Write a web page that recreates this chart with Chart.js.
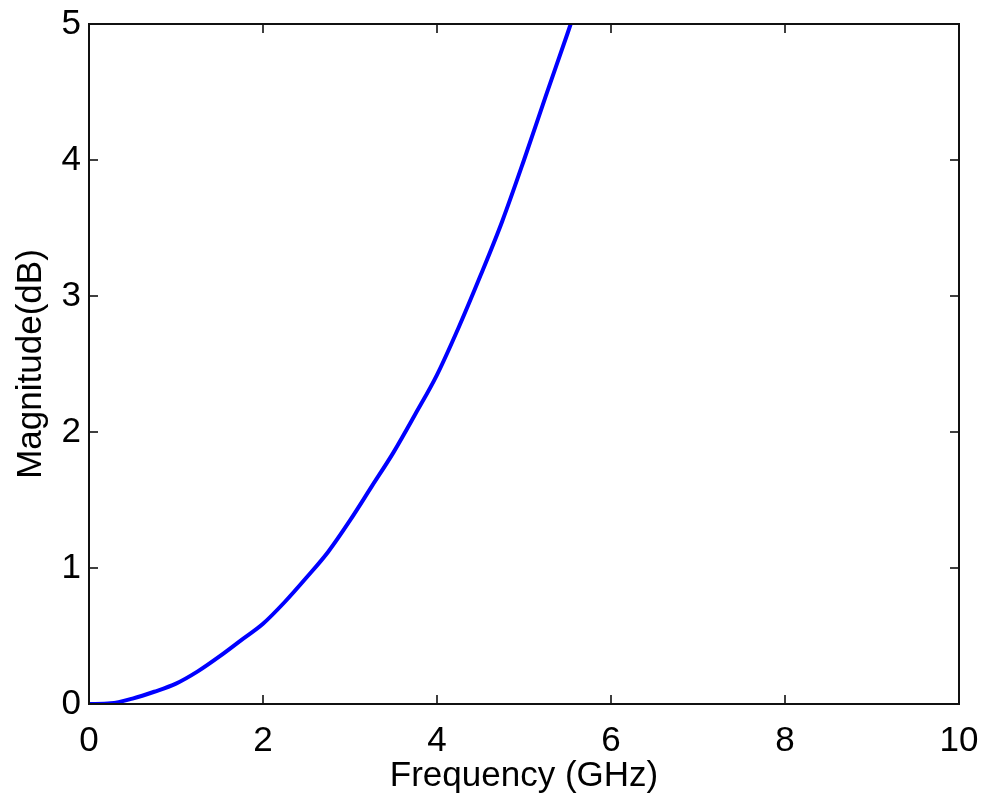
<!DOCTYPE html>
<html>
<head>
<meta charset="utf-8">
<script src="https://cdn.jsdelivr.net/npm/chart.js@4/dist/chart.umd.min.js"></script>
<style>
  html, body { margin: 0; padding: 0; background: #ffffff; }
  #wrap { width: 985px; height: 799px; position: relative; }
</style>
</head>
<body>
<div id="wrap"><canvas id="c" width="985" height="799"></canvas></div>
<script>
// Frequency (GHz) and magnitude (dB)
const frequencyGHz = [0, 0.25, 0.5, 0.75, 1.0, 1.25, 1.5, 1.75, 2.0, 2.25, 2.5, 2.75, 3.0, 3.25, 3.5, 3.75, 4.0, 4.25, 4.5, 4.75, 5.0, 5.25, 5.5, 5.6];
const magnitudeDB  = [0, 0.005, 0.04, 0.09, 0.15, 0.24, 0.35, 0.47, 0.59, 0.75, 0.93, 1.12, 1.35, 1.60, 1.85, 2.13, 2.42, 2.77, 3.15, 3.55, 4.00, 4.47, 4.93, 5.12];
const xTicks = [0, 2, 4, 6, 8, 10];
const yTicks = [0, 1, 2, 3, 4, 5];
const xTitle = 'Frequency (GHz)';
const yTitle = 'Magnitude(dB)';

const FONT = '"Liberation Sans", Arial, Helvetica, sans-serif';
const FS = 35;
const points = frequencyGHz.map((f, i) => ({ x: f, y: magnitudeDB[i] }));

const framePlugin = {
  id: 'frame',
  afterDatasetsDraw(chart) {
    const { ctx, chartArea: a, scales } = chart;
    ctx.save();
    ctx.strokeStyle = '#000';
    ctx.lineWidth = 1.5;
    const tl = 9;
    ctx.beginPath();
    xTicks.forEach(v => {
      const px = scales.x.getPixelForValue(v);
      ctx.moveTo(px, a.bottom); ctx.lineTo(px, a.bottom - tl);
      ctx.moveTo(px, a.top); ctx.lineTo(px, a.top + tl);
    });
    yTicks.forEach(v => {
      const py = scales.y.getPixelForValue(v);
      ctx.moveTo(a.left, py); ctx.lineTo(a.left + tl, py);
      ctx.moveTo(a.right, py); ctx.lineTo(a.right - tl, py);
    });
    ctx.stroke();
    ctx.lineWidth = 2;
    ctx.strokeStyle = '#111';
    ctx.strokeRect(a.left, a.top, a.right - a.left, a.bottom - a.top);
    ctx.restore();
  }
};

new Chart(document.getElementById('c'), {
  type: 'scatter',
  data: {
    datasets: [{
      data: points,
      showLine: true,
      borderColor: '#0000ff',
      borderWidth: 4,
      pointRadius: 0,
      cubicInterpolationMode: 'monotone',
      fill: false
    }]
  },
  options: {
    responsive: false,
    animation: false,
    events: [],
    layout: { padding: { left: 0, top: 24, right: 26, bottom: 0 } },
    plugins: { legend: { display: false }, tooltip: { enabled: false } },
    scales: {
      x: {
        type: 'linear', min: 0, max: 10,
        afterBuildTicks: s => { s.ticks = xTicks.map(v => ({ value: v })); },
        afterFit: s => { s.height = 95; s.paddingLeft = 0; s.paddingRight = 0; },
        grid: { display: false, drawTicks: false },
        border: { display: false },
        ticks: { color: '#000', padding: 16, maxRotation: 0, font: { family: FONT, size: FS } },
        title: { display: true, text: xTitle, color: '#000', padding: { top: 0, bottom: 2 }, font: { family: FONT, size: FS } }
      },
      y: {
        type: 'linear', min: 0, max: 5,
        afterBuildTicks: s => { s.ticks = yTicks.map(v => ({ value: v })); },
        afterFit: s => { s.width = 89; s.paddingTop = 0; s.paddingBottom = 0; },
        grid: { display: false, drawTicks: false },
        border: { display: false },
        ticks: { color: '#000', padding: 8, font: { family: FONT, size: FS } },
        title: { display: true, text: yTitle, color: '#000', padding: { top: 10, bottom: 0 }, font: { family: FONT, size: FS } }
      }
    }
  },
  plugins: [framePlugin]
});
</script>
</body>
</html>
